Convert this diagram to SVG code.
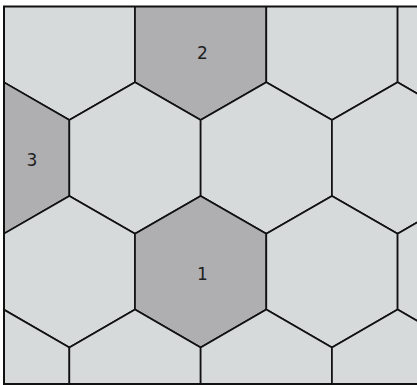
<svg xmlns="http://www.w3.org/2000/svg" width="417" height="385" viewBox="0 0 417 385">
  <style>
    .hex { fill: #d7dadb; stroke: #111; stroke-width: 1.7; stroke-linejoin: miter; }
    .hex.dark { fill: #afafb2; }
    .lbl { font-family: "DejaVu Sans", "Liberation Sans", sans-serif; font-size: 17px; fill: #1e1e1e; text-anchor: middle; }
    .frame { fill: none; stroke: #111; stroke-width: 2; }
  </style>
  <defs>
    <polygon id="hexshape" points="0,-75.8 65.65,-37.9 65.65,37.9 0,75.8 -65.65,37.9 -65.65,-37.9"/>
    <clipPath id="clip"><rect x="4" y="6.5" width="420" height="377.5"/></clipPath>
  </defs>
  <rect x="0" y="0" width="417" height="385" fill="#ffffff"/>
  <g clip-path="url(#clip)">
    <g id="row-a">
      <g id="hex-a1"><use href="#hexshape" class="hex" transform="translate(69.35,44.3)"/></g>
      <g id="hex-2"><use href="#hexshape" class="hex dark" transform="translate(200.65,44.3)"/></g>
      <g id="hex-a3"><use href="#hexshape" class="hex" transform="translate(331.95,44.3)"/></g>
      <g id="hex-a4"><use href="#hexshape" class="hex" transform="translate(463.25,44.3)"/></g>
    </g>
    <g id="row-b">
      <g id="hex-3"><use href="#hexshape" class="hex dark" transform="translate(3.7,158)"/></g>
      <g id="hex-b2"><use href="#hexshape" class="hex" transform="translate(135,158)"/></g>
      <g id="hex-b3"><use href="#hexshape" class="hex" transform="translate(266.3,158)"/></g>
      <g id="hex-b4"><use href="#hexshape" class="hex" transform="translate(397.6,158)"/></g>
    </g>
    <g id="row-c">
      <g id="hex-c1"><use href="#hexshape" class="hex" transform="translate(69.35,271.7)"/></g>
      <g id="hex-1"><use href="#hexshape" class="hex dark" transform="translate(200.65,271.7)"/></g>
      <g id="hex-c3"><use href="#hexshape" class="hex" transform="translate(331.95,271.7)"/></g>
      <g id="hex-c4"><use href="#hexshape" class="hex" transform="translate(463.25,271.7)"/></g>
    </g>
    <g id="row-d">
      <g id="hex-d1"><use href="#hexshape" class="hex" transform="translate(3.7,385.4)"/></g>
      <g id="hex-d2"><use href="#hexshape" class="hex" transform="translate(135,385.4)"/></g>
      <g id="hex-d3"><use href="#hexshape" class="hex" transform="translate(266.3,385.4)"/></g>
      <g id="hex-d4"><use href="#hexshape" class="hex" transform="translate(397.6,385.4)"/></g>
    </g>
  </g>
  <g id="labels">
    <text class="lbl" x="202.5" y="58.5">2</text>
    <text class="lbl" x="32" y="165.5">3</text>
    <text class="lbl" x="202.5" y="280">1</text>
  </g>
  <g id="connectors"/>
  <path class="frame" d="M425,6.5 H4 V384 H425"/>
</svg>
